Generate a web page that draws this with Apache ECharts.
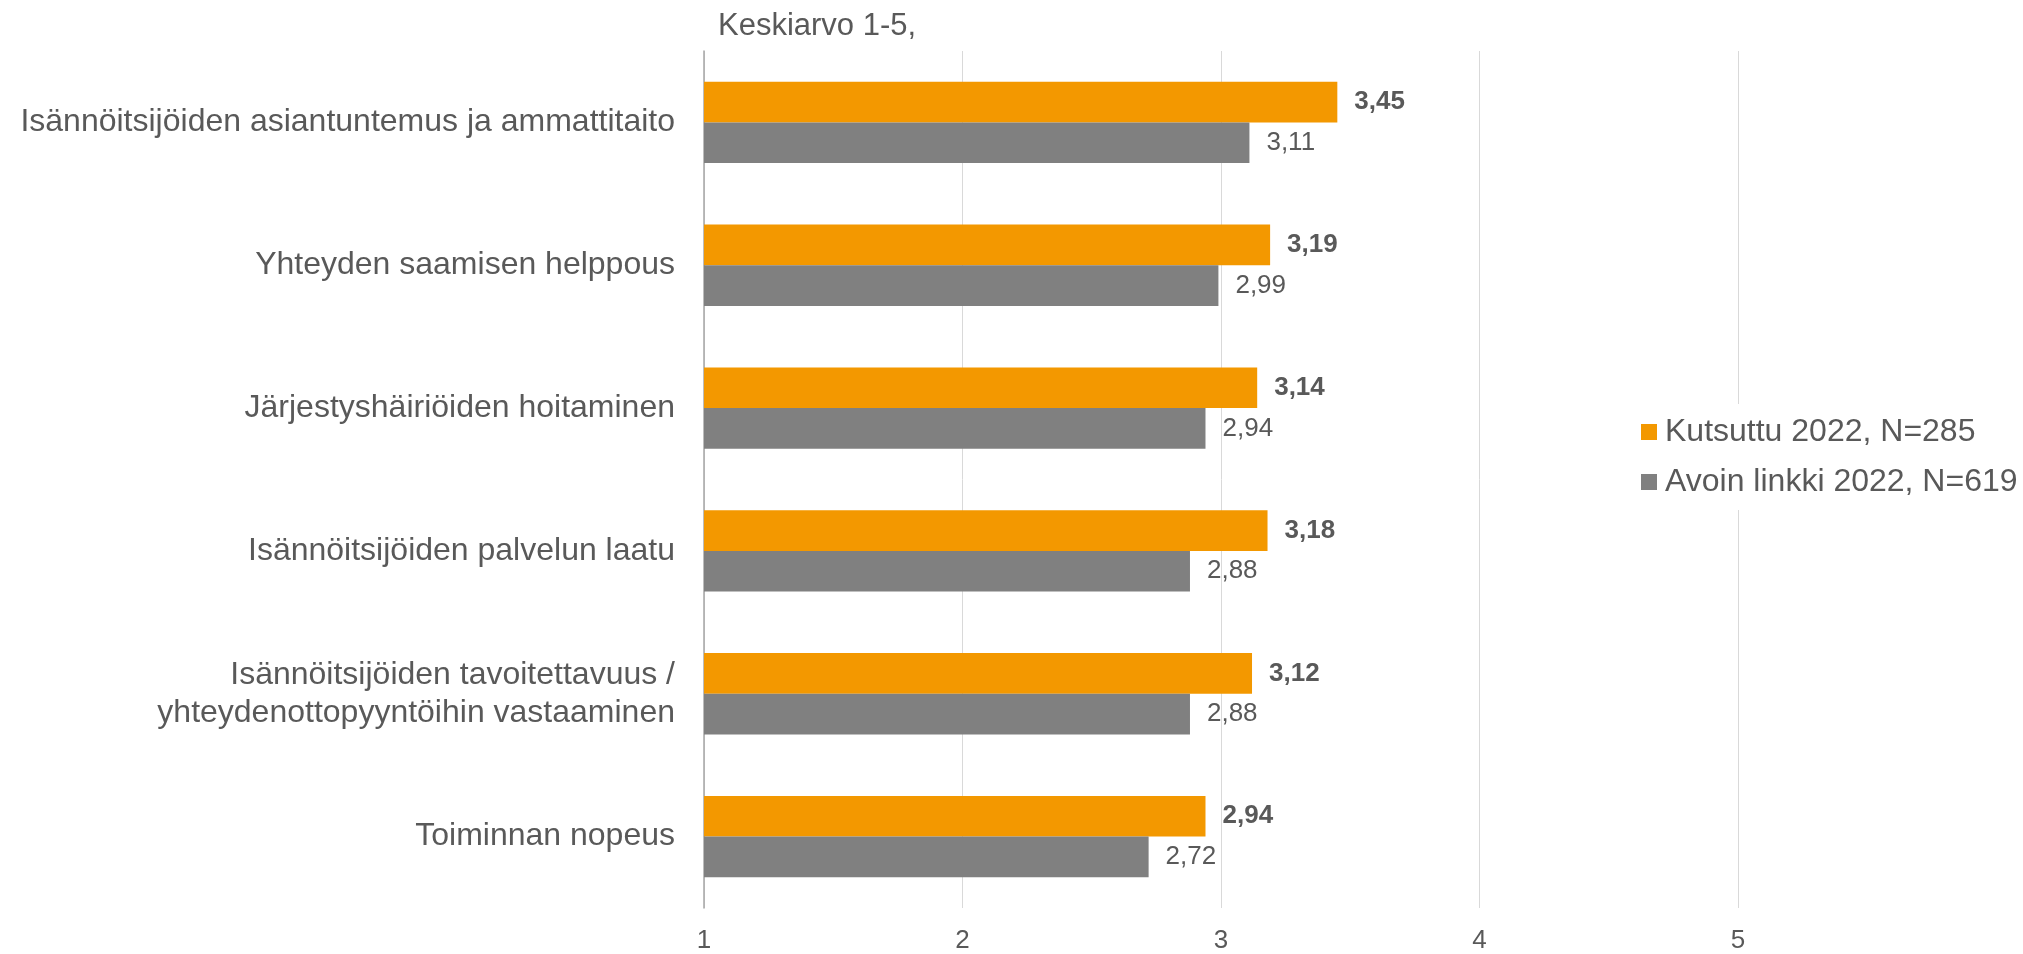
<!DOCTYPE html>
<html>
<head>
<meta charset="utf-8">
<script src="https://cdn.jsdelivr.net/npm/echarts@6/dist/echarts.min.js"></script>
<style>
  html, body { margin: 0; padding: 0; background: #fff; }
  #chart { width: 2023px; height: 954px; }
</style>
</head>
<body>
<div id="chart"></div>
<script>
// categories top to bottom
var categories = [
  'Isännöitsijöiden asiantuntemus ja ammattitaito',
  'Yhteyden saamisen helppous',
  'Järjestyshäiriöiden hoitaminen',
  'Isännöitsijöiden palvelun laatu',
  'Isännöitsijöiden tavoitettavuus /\nyhteydenottopyyntöihin vastaaminen',
  'Toiminnan nopeus'
];
var kutsuttu = [3.45, 3.19, 3.14, 3.18, 3.12, 2.94];
var avoinLinkki = [3.11, 2.99, 2.94, 2.88, 2.88, 2.72];
var seriesNames = ['Kutsuttu 2022, N=285', 'Avoin linkki 2022, N=619'];
var xTicks = [1, 2, 3, 4, 5];

var FONT = '"Liberation Sans", Arial, sans-serif';
var TXT = '#595959';

function fi(v) { return String(v).replace('.', ','); }

var chart = echarts.init(document.getElementById('chart'));
chart.setOption({
  animation: false,
  textStyle: { fontFamily: FONT },
  title: {
    text: 'Keskiarvo 1-5,',
    left: 713, top: 6,
    textStyle: { fontFamily: FONT, fontSize: 31, fontWeight: 'normal', color: TXT }
  },
  legend: {
    orient: 'vertical',
    left: 1636, top: 404,
    padding: [12, 4, 12, 5],
    backgroundColor: '#fff',
    icon: 'rect',
    itemWidth: 16, itemHeight: 16,
    itemGap: 18,
    textStyle: { fontFamily: FONT, fontSize: 32, color: TXT, padding: [0, 0, 0, 3] },
    data: seriesNames
  },
  grid: { left: 704, right: 285, top: 51, bottom: 45, containLabel: false },
  xAxis: {
    type: 'value',
    min: xTicks[0], max: xTicks[xTicks.length - 1], interval: 1,
    axisLine: { show: false },
    axisTick: { show: false },
    splitLine: { lineStyle: { color: '#d9d9d9', width: 1 } },
    axisLabel: { fontFamily: FONT, fontSize: 26, color: TXT, margin: 20 }
  },
  yAxis: {
    type: 'category',
    inverse: true,
    data: categories,
    axisLine: { show: true, lineStyle: { color: '#a6a6a6', width: 1.5 } },
    axisTick: { show: false },
    axisLabel: { fontFamily: FONT, fontSize: 32, color: TXT, margin: 29, lineHeight: 38, align: 'right' }
  },
  series: [
    {
      name: seriesNames[0], type: 'bar', data: kutsuttu,
      barGap: '0%', barCategoryGap: '43%',
      itemStyle: { color: '#f39800' },
      label: {
        show: true, position: 'right', distance: 17,
        fontFamily: FONT, fontSize: 26, fontWeight: 'bold', color: TXT,
        formatter: function (p) { return fi(p.value); }
      }
    },
    {
      name: seriesNames[1], type: 'bar', data: avoinLinkki,
      barGap: '0%', barCategoryGap: '43%',
      itemStyle: { color: '#808080' },
      label: {
        show: true, position: 'right', distance: 17,
        fontFamily: FONT, fontSize: 26, color: TXT,
        formatter: function (p) { return fi(p.value); }
      }
    }
  ]
});
</script>
</body>
</html>
